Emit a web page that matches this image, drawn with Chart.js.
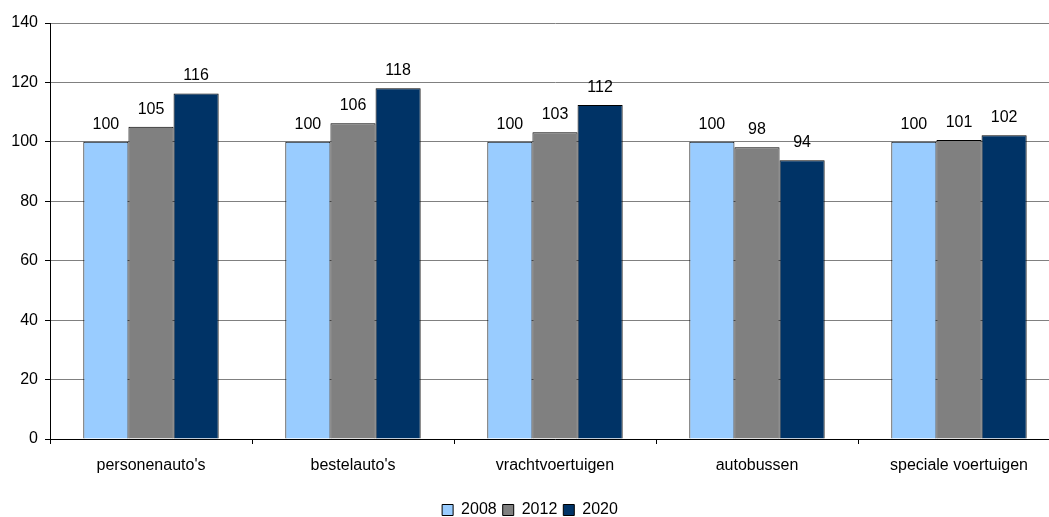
<!DOCTYPE html>
<html>
<head>
<meta charset="utf-8">
<script src="https://cdn.jsdelivr.net/npm/chart.js@4/dist/chart.umd.min.js"></script>
<style>
  html, body { margin: 0; padding: 0; background: #fff; overflow: hidden; }
  #wrap { width: 1049px; height: 517px; overflow: hidden; }
</style>
</head>
<body>
<div id="wrap"><canvas id="chart" width="1110" height="530"></canvas></div>
<script>
// ── Data ─────────────────────────────────────────────────────
const categories = ["personenauto's", "bestelauto's", 'vrachtvoertuigen', 'autobussen', 'speciale voertuigen'];
const years      = ['2008', '2012', '2020'];
const v2008      = [100, 100, 100, 100, 100];
const v2012      = [105.1, 106.3, 103.2, 98.2, 100.6];
const v2020      = [116.3, 118.0, 112.4, 93.8, 102.2];
const yTicks     = [0, 20, 40, 60, 80, 100, 120, 140];

const COLORS = ['#99ccff', '#808080', '#003366'];
const FONT   = { family: '"Liberation Sans", Arial, sans-serif', size: 16 };

// Value labels above each bar
const barLabels = {
  id: 'barLabels',
  afterDatasetsDraw(chart) {
    const ctx = chart.ctx;
    ctx.save();
    ctx.font = `${FONT.size}px ${FONT.family}`;
    ctx.fillStyle = '#000';
    ctx.textAlign = 'center';
    ctx.textBaseline = 'alphabetic';
    chart.data.datasets.forEach((ds, i) => {
      chart.getDatasetMeta(i).data.forEach((bar, j) => {
        ctx.fillText(Math.round(ds.data[j]), bar.x, bar.y - 13);
      });
    });
    ctx.restore();
  }
};

new Chart(document.getElementById('chart'), {
  type: 'bar',
  data: {
    labels: categories,
    datasets: [v2008, v2012, v2020].map((d, i) => ({
      label: years[i],
      data: d,
      backgroundColor: COLORS[i],
      borderColor: '#000',
      borderWidth: 1,
      categoryPercentage: 0.67,
      barPercentage: 1
    }))
  },
  options: {
    responsive: false,
    animation: false,
    layout: { padding: { top: 23, right: 50, bottom: 2, left: 0 } },
    plugins: {
      tooltip: { enabled: false },
      legend: {
        position: 'bottom',
        labels: {
          color: '#000', font: FONT,
          boxWidth: 11, boxHeight: 11, padding: 6
        }
      }
    },
    scales: {
      x: {
        grid: {
          offset: true, drawOnChartArea: false,
          color: '#000', tickLength: 5
        },
        border: { color: '#000' },
        ticks: { color: '#000', font: FONT, padding: 12 },
        afterFit: s => { s.height = 57; }
      },
      y: {
        min: 0, max: 140,
        afterBuildTicks: s => { s.ticks = yTicks.map(v => ({ value: v })); },
        grid: { color: '#808080', tickLength: 5, tickColor: '#000' },
        border: { color: '#000' },
        ticks: { color: '#000', font: FONT, padding: 7 },
        afterFit: s => { s.width = 50; }
      }
    }
  },
  plugins: [barLabels]
});
</script>
</body>
</html>
